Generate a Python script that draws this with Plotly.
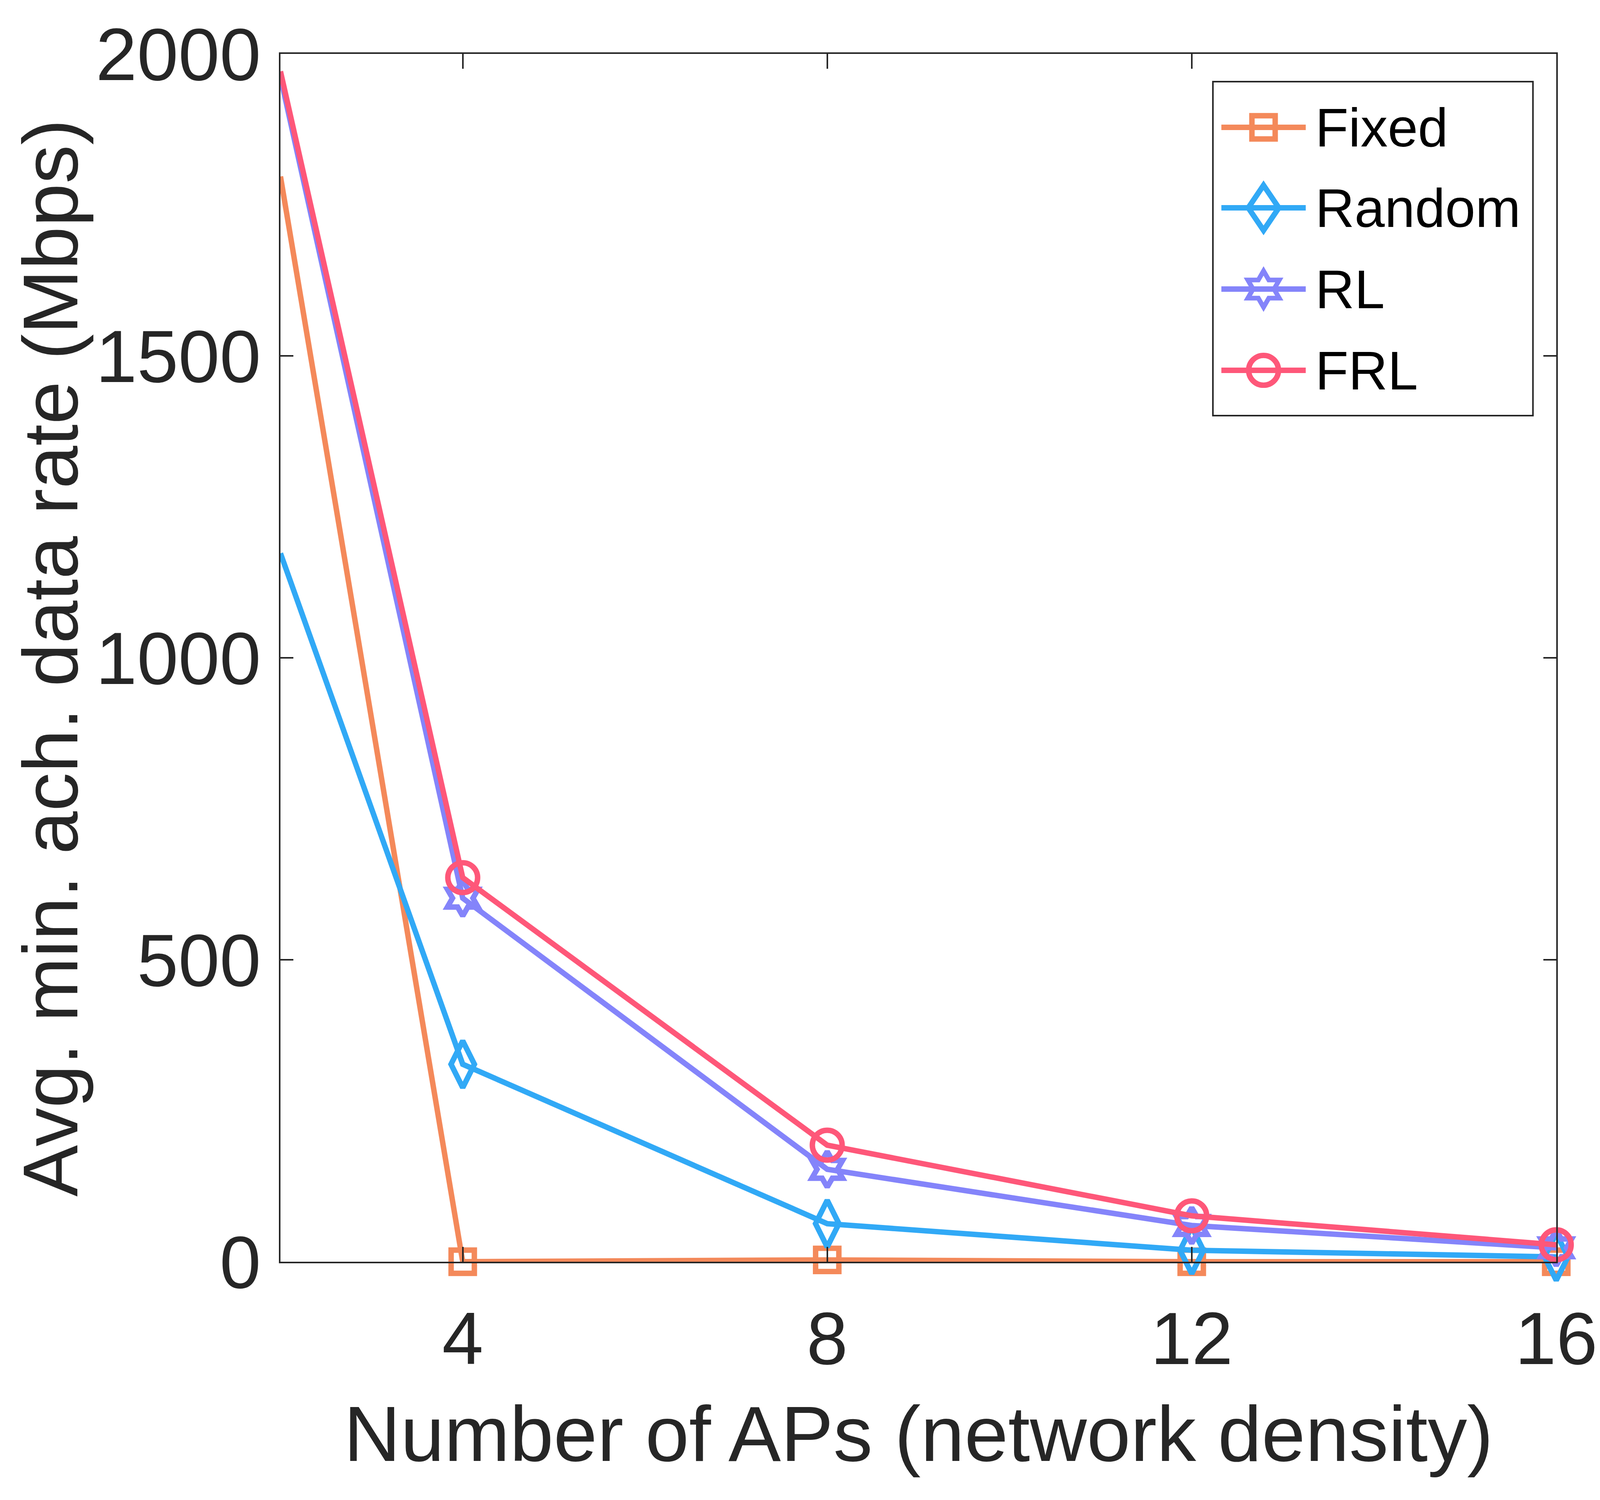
import math
import plotly.graph_objects as go

# Data
num_aps = [2, 4, 8, 12, 16]
fixed = [1797, 0, 3, 0, 0]
random_ = [1173, 327, 63, 19, 8]
rl = [1962, 602, 153, 60, 23]
frl = [1971, 636, 193, 76, 28]

series_names = ["Fixed", "Random", "RL", "FRL"]
x_ticks = [4, 8, 12, 16]
y_ticks = [0, 500, 1000, 1500, 2000]

colores = ["#F4895A", "#31A9F6", "#8484FA", "#FE5779"]
simbolos = ["square-open", "diamond-tall-open", "hexagram-open", "circle-open"]
tamanos = [64, 92, 74, 82]

# measures are taken in reference pixels (4740x3840); the browser only gives
# 4096 px of width, so x is squeezed and y is kept
W, H = 4740, 3840
KX = 4096 / W
KY = 1.0
FS = KX          # text scale
MK = 0.93        # marker / line scale
L, R, T, B = 822, 139, 130, 618
TXT = "#262626"
FUENTE = "Liberation Sans, Arial, sans-serif"

fig = go.Figure()
for nombre, yv, col, sym, sz in zip(series_names, [fixed, random_, rl, frl], colores, simbolos, tamanos):
    # first point sits on the left border and shows no marker in the reference
    fig.add_trace(go.Scatter(
        x=num_aps, y=yv, name=nombre, mode="lines",
        line=dict(color=col, width=15 * MK), showlegend=False,
    ))
    fig.add_trace(go.Scatter(
        x=num_aps[1:], y=yv[1:], name=nombre, mode="markers",
        marker=dict(symbol=sym, size=sz * MK, color=col, line=dict(color=col, width=15 * MK)),
        cliponaxis=False, showlegend=False,
    ))


# Legend drawn by hand so the symbols keep the reference size
def px_x(p):
    return (p - L) / (W - L - R)


def px_y(p):
    return (H - B - p) / (H - T - B)


leg_rows = [318, 524, 732, 940]   # pixel centre of each entry
leg_line_cx = 3734
leg_text_x = 3885

shapes = [dict(type="rect", xref="paper", yref="paper",
               x0=px_x(3584), x1=px_x(4532), y0=px_y(1056), y1=px_y(201),
               line=dict(color=TXT, width=4), fillcolor="white", layer="above")]
annots = []


def star_path(r_out):
    r_in = r_out / math.sqrt(3)
    pts = []
    for k in range(12):
        ang = math.pi / 2 + k * math.pi / 6
        rr = r_out if k % 2 == 0 else r_in
        pts.append((rr * math.cos(ang), rr * math.sin(ang)))
    return "M" + "L".join(f"{a:.1f},{b:.1f}" for a, b in pts) + "Z"


for i, nombre in enumerate(series_names):
    col = colores[i]
    ax, ay = px_x(leg_line_cx), px_y(leg_rows[i])
    base = dict(xref="paper", yref="paper", xsizemode="pixel", ysizemode="pixel",
                xanchor=ax, yanchor=ay, layer="above")
    shapes.append(dict(type="line", x0=-125 * KX, x1=125 * KX, y0=0, y1=0,
                       line=dict(color=col, width=15 * MK), **base))
    if i == 0:
        h = 32 * MK
        shapes.append(dict(type="rect", x0=-h, x1=h, y0=-h, y1=h,
                           line=dict(color=col, width=15 * MK), **base))
    elif i == 1:
        dx, dy = 42 * MK, 62 * MK
        shapes.append(dict(type="path", path=f"M0,{dy:.1f}L{dx:.1f},0L0,{-dy:.1f}L{-dx:.1f},0Z",
                           line=dict(color=col, width=15 * MK), **base))
    elif i == 2:
        shapes.append(dict(type="path", path=star_path(50 * MK),
                           line=dict(color=col, width=13 * MK), **base))
    else:
        h = 41 * MK
        shapes.append(dict(type="circle", x0=-h, x1=h, y0=-h, y1=h,
                           line=dict(color=col, width=15 * MK), **base))
    annots.append(dict(text=nombre, xref="paper", yref="paper",
                       x=px_x(leg_text_x), y=ay, xanchor="left", yanchor="middle",
                       showarrow=False, font=dict(size=161 * FS, color="black", family=FUENTE)))

# axis titles
annots.append(dict(text="Number of APs (network density)", xref="paper", yref="paper",
                   x=0.5, y=px_y(3662), xanchor="center", yanchor="middle", showarrow=False,
                   font=dict(size=233 * FS, color=TXT, family=FUENTE)))
annots.append(dict(text="Avg. min. ach. data rate (Mbps)", xref="paper", yref="paper",
                   x=px_x(140), y=0.5, xanchor="center", yanchor="middle", showarrow=False,
                   textangle=-90, font=dict(size=198, color=TXT, family=FUENTE)))

fig.update_layout(
    width=round(W * KX), height=round(H * KY),
    margin=dict(l=L * KX, r=R * KX, t=T * KY, b=B * KY, autoexpand=False),
    paper_bgcolor="white", plot_bgcolor="white",
    font=dict(family=FUENTE, color=TXT),
    shapes=shapes, annotations=annots,
    showlegend=False,
)

fig.update_xaxes(
    range=[2, 16], tickvals=x_ticks, ticks="inside", ticklen=38 * KY, tickwidth=4,
    tickcolor=TXT, showline=True, linewidth=4, linecolor=TXT, mirror="ticks",
    showgrid=False, zeroline=False, tickfont=dict(size=220 * FS, color=TXT),
    ticklabelstandoff=30,
)
fig.update_yaxes(
    range=[0, 2000], tickvals=y_ticks, ticks="inside", ticklen=38 * KX, tickwidth=4,
    tickcolor=TXT, showline=True, linewidth=4, linecolor=TXT, mirror="ticks",
    showgrid=False, zeroline=False, tickfont=dict(size=220 * FS, color=TXT),
    ticklabelstandoff=8,
)

fig.write_html("out.html")
